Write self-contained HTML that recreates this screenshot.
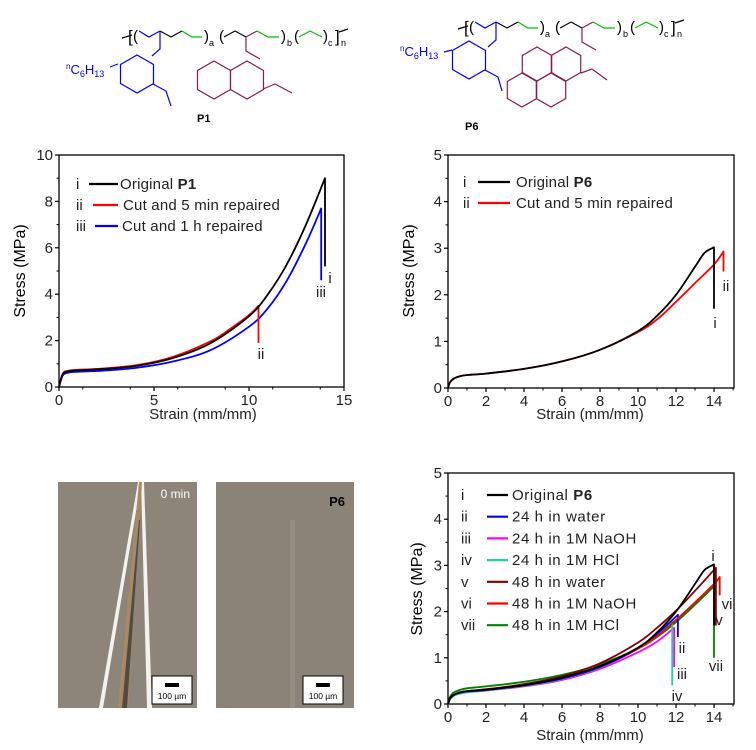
<!DOCTYPE html>
<html><head><meta charset="utf-8"><style>
html,body{margin:0;padding:0;background:#fff;}
svg{display:block;font-family:"Liberation Sans",Arial,sans-serif;}
</style></head><body>
<svg id="fig" width="756" height="750" viewBox="0 0 756 750" xmlns="http://www.w3.org/2000/svg">
<g id="structs"></g>
<g id="photos">
  <rect x="58" y="482" width="139" height="226" fill="#8d8579"/>
  <polygon points="99,708 103,708 141,482 138,482" fill="#f4f2ee"/>
  <polygon points="141,482 144,482 152,708 147,708" fill="#f4f2ee"/>
  <polygon points="118,708 128,708 142,482 139,482" fill="#a78a62"/>
  <polygon points="122,708 127,708 140,520 139,520" fill="#4f4a45"/>
  <text x="190" y="498" text-anchor="end" font-size="12" fill="#fff">0 min</text>
  <rect x="152" y="676" width="40" height="28" fill="#fff" stroke="#000" stroke-width="1"/>
  <rect x="165" y="683" width="14" height="4" fill="#000"/>
  <text x="172" y="699" text-anchor="middle" font-size="8.5" fill="#000">100 µm</text>
  <rect x="216" y="482" width="138" height="226" fill="#8b8378"/>
  <rect x="290" y="520" width="5" height="188" fill="#958e84"/>
  <text x="345" y="506" text-anchor="end" font-size="13" font-weight="bold" fill="#000">P6</text>
  <rect x="303" y="676" width="40" height="28" fill="#fff" stroke="#000" stroke-width="1"/>
  <rect x="316" y="683" width="14" height="4" fill="#000"/>
  <text x="323" y="699" text-anchor="middle" font-size="8.5" fill="#000">100 µm</text>
</g>
<g id="c1"></g>
<g id="c2"></g>
<g id="c3"></g>
</svg>
<script>
// ===== Chart 1 data (P1) =====
const c1Strain_i   = [0,0.2,0.5,1,2,4,6,8,10,11,12,13,14,14];
const c1Stress_i   = [0,0.55,0.68,0.72,0.76,0.9,1.25,1.9,3.05,4.0,5.3,7.0,9.0,5.2];
const c1Strain_ii  = [0,0.2,0.5,1,2,4,6,8,9,10,10.5,10.5];
const c1Stress_ii  = [0,0.58,0.7,0.74,0.78,0.93,1.3,1.98,2.5,3.1,3.5,1.9];
const c1Strain_iii = [0,0.2,0.5,1,2,4,6,8,10,11,12,13,13.8,13.8];
const c1Stress_iii = [0,0.5,0.62,0.66,0.69,0.82,1.1,1.6,2.6,3.4,4.6,6.2,7.7,4.6];
const c1XTicks = [0,5,10,15];
const c1YTicks = [0,2,4,6,8,10];
// ===== Chart 2 data (P6 repair) =====
const c2Strain_i  = [0,0.1,0.3,0.6,1,2,4,6,8,10,11,12,13,13.5,14,14];
const c2Stress_i  = [0,0.12,0.2,0.25,0.28,0.31,0.41,0.57,0.82,1.22,1.55,2.0,2.6,2.9,3.02,1.7];
const c2Strain_ii = [0,0.1,0.3,0.6,1,2,4,6,8,10,11,12,13,14,14.5,14.5];
const c2Stress_ii = [0,0.12,0.2,0.25,0.28,0.31,0.41,0.57,0.82,1.2,1.47,1.85,2.25,2.65,2.93,2.5];
const c2XTicks = [0,2,4,6,8,10,12,14];
const c2YTicks = [0,1,2,3,4,5];
// ===== Chart 3 data (P6 solvents) =====
const c3Strain_i   = [0,0.1,0.3,0.6,1,2,4,6,8,10,11,12,13,13.5,14,14];
const c3Stress_i   = [0,0.12,0.2,0.25,0.28,0.31,0.41,0.57,0.82,1.22,1.55,2.0,2.6,2.9,3.02,1.7];
const c3Strain_ii  = [0,0.1,0.3,0.6,1,2,4,6,8,10,11,12.1,12.1];
const c3Stress_ii  = [0,0.11,0.19,0.24,0.27,0.3,0.4,0.55,0.8,1.2,1.52,1.93,1.45];
const c3Strain_iii = [0,0.1,0.3,0.6,1,2,4,6,8,10,11,11.9,11.9];
const c3Stress_iii = [0,0.1,0.18,0.23,0.26,0.29,0.38,0.52,0.76,1.12,1.35,1.65,0.8];
const c3Strain_iv  = [0,0.1,0.3,0.6,1,2,4,6,8,10,11,11.8,11.8];
const c3Stress_iv  = [0,0.1,0.18,0.22,0.25,0.29,0.39,0.54,0.79,1.2,1.5,1.8,0.4];
const c3Strain_v   = [0,0.1,0.3,0.6,1,2,4,6,8,10,11,12,13,14.1,14.1];
const c3Stress_v   = [0,0.12,0.2,0.25,0.28,0.32,0.43,0.6,0.88,1.33,1.65,2.02,2.45,2.95,1.7];
const c3Strain_vi  = [0,0.1,0.3,0.6,1,2,4,6,8,10,11,12,13,14,14.3,14.3];
const c3Stress_vi  = [0,0.12,0.2,0.25,0.28,0.31,0.41,0.57,0.82,1.2,1.47,1.82,2.2,2.6,2.75,2.35];
const c3Strain_vii = [0,0.1,0.3,0.6,1,2,4,6,8,10,11,12,13,14,14];
const c3Stress_vii = [0,0.15,0.25,0.3,0.34,0.38,0.48,0.63,0.86,1.2,1.45,1.77,2.15,2.55,1.0];
const c3XTicks = [0,2,4,6,8,10,12,14];
const c3YTicks = [0,1,2,3,4,5];

const NS="http://www.w3.org/2000/svg";
function mk(parent,tag,attrs,text){const e=document.createElementNS(NS,tag);for(const k in attrs)e.setAttribute(k,attrs[k]);if(text!==undefined)e.textContent=text;parent.appendChild(e);return e;}

function axes(g,L,R,T,B,xmax,ymax,xt,yt,minorX,minorY){
  const sx=v=>L+(v/xmax)*(R-L), sy=v=>B-(v/ymax)*(B-T);
  const box=mk(g,'rect',{x:L,y:T,width:R-L,height:B-T,fill:'none',stroke:'#000','stroke-width':1.3});
  
  
  xt.forEach(v=>{
    mk(g,'line',{x1:sx(v),x2:sx(v),y1:B,y2:B+4,stroke:'#000','stroke-width':1.2});
    const t=mk(g,'text',{x:sx(v),y:B+18,'text-anchor':'middle','font-size':15,fill:'#222'},String(v));
    
    
  });
  for(let v=minorX;v<xmax;v+=minorX*2){mk(g,'line',{x1:sx(v),x2:sx(v),y1:B,y2:B+2.5,stroke:'#000','stroke-width':1});}
  yt.forEach(v=>{
    mk(g,'line',{x1:L-4,x2:L,y1:sy(v),y2:sy(v),stroke:'#000','stroke-width':1.2});
    const t=mk(g,'text',{x:L-6,y:sy(v)+5,'text-anchor':'end','font-size':15,fill:'#222'},String(v));
    
    
  });
  for(let v=minorY;v<ymax;v+=minorY*2){mk(g,'line',{x1:L-2.5,x2:L,y1:sy(v),y2:sy(v),stroke:'#000','stroke-width':1});}
  return {sx,sy};
}
function series(g,s,xs,ys,color,name){
  const P=xs.map((x,i)=>[s.sx(x),s.sy(ys[i])]);
  const n=P.length-1; // last point is the vertical drop
  let d='M'+P[0][0].toFixed(1)+','+P[0][1].toFixed(1);
  for(let i=0;i<n-1;i++){
    const p0=P[Math.max(0,i-1)],p1=P[i],p2=P[i+1],p3=P[Math.min(n-1,i+2)];
    const c1=[p1[0]+(p2[0]-p0[0])/6,p1[1]+(p2[1]-p0[1])/6];
    const c2=[p2[0]-(p3[0]-p1[0])/6,p2[1]-(p3[1]-p1[1])/6];
    d+=` C${c1[0].toFixed(1)},${c1[1].toFixed(1)} ${c2[0].toFixed(1)},${c2[1].toFixed(1)} ${p2[0].toFixed(1)},${p2[1].toFixed(1)}`;
  }
  d+=' L'+P[n][0].toFixed(1)+','+P[n][1].toFixed(1);
  const p=mk(g,'path',{d:d,fill:'none',stroke:color,'stroke-width':1.8,'stroke-linejoin':'round'});
  
  
}
function label(g,x,y,txt,name,size,anchor,color,rot){
  const a={x:x,y:y,'font-size':size||15,fill:color||'#222','text-anchor':anchor||'start'};
  if(rot)a.transform='rotate(-90 '+x+' '+y+')';
  const t=mk(g,'text',a,txt);
  
  
  return t;
}
function legendRow(g,rx,lx1,lx2,tx,y,roman,color,txt,bold,name,ls){
  label(g,rx,y+5,roman,'legend-roman');
  mk(g,'line',{x1:lx1,x2:lx2,y1:y,y2:y,stroke:color,'stroke-width':2.2});
  const t=label(g,tx,y+5,txt,name,15);
  t.setAttribute('letter-spacing',ls||'0.2');
  if(bold){const b=document.createElementNS(NS,'tspan');b.setAttribute('font-weight','bold');b.textContent=bold;t.appendChild(b);}
}

// ---- Chart 1 ----
(function(){
  const g=document.getElementById('c1');
  const s=axes(g,59,344,155,387,15,10,c1XTicks,c1YTicks,1.25,1);
  series(g,s,c1Strain_iii,c1Stress_iii,'#0000ff','series-1h-repaired');
  series(g,s,c1Strain_ii,c1Stress_ii,'#ff0000','series-5min-repaired');
  series(g,s,c1Strain_i,c1Stress_i,'#000','series-original-p1');
  legendRow(g,76,89,118,120,184,'i','#000','Original ','P1','legend-original');
  legendRow(g,76,93,118,123,205,'ii','#ff0000','Cut and 5 min repaired','','legend-5min');
  legendRow(g,76,95,118,122,226,'iii','#0000ff','Cut and 1 h repaired','','legend-1h');
  label(g,330,283,'i','series-label-i',15,'middle');
  label(g,321,297,'iii','series-label-iii',15,'middle');
  label(g,261,359,'ii','series-label-ii',15,'middle');
  label(g,203,419,'Strain (mm/mm)','x-axis-title',15,'middle');
  label(g,25,271,'Stress (MPa)','y-axis-title',16,'middle','#000',true);
})();
// ---- Chart 2 ----
(function(){
  const g=document.getElementById('c2');
  const s=axes(g,448,734,155,388,15.05,5,c2XTicks,c2YTicks,1,0.5);
  series(g,s,c2Strain_ii,c2Stress_ii,'#ff0000','series-5min-repaired');
  series(g,s,c2Strain_i,c2Stress_i,'#000','series-original-p6');
  legendRow(g,463,478,510,516,182,'i','#000','Original ','P6','legend-original');
  legendRow(g,463,478,510,516,203,'ii','#ff0000','Cut and 5 min repaired','','legend-5min');
  label(g,715,328,'i','series-label-i',15,'middle');
  label(g,726,291,'ii','series-label-ii',15,'middle');
  label(g,590,419,'Strain (mm/mm)','x-axis-title',15,'middle');
  label(g,414,271,'Stress (MPa)','y-axis-title',16,'middle','#000',true);
})();
// ---- Chart 3 ----
(function(){
  const g=document.getElementById('c3');
  const s=axes(g,448,734,473,704,15.05,5,c3XTicks,c3YTicks,1,0.5);
  series(g,s,c3Strain_vii,c3Stress_vii,'#008000','series-48h-hcl');
  series(g,s,c3Strain_iii,c3Stress_iii,'#ff00ff','series-24h-naoh');
  series(g,s,c3Strain_iv,c3Stress_iv,'#1fd3a0','series-24h-hcl');
  series(g,s,c3Strain_ii,c3Stress_ii,'#0000ff','series-24h-water');
  series(g,s,c3Strain_vi,c3Stress_vi,'#ff0000','series-48h-naoh');
  series(g,s,c3Strain_v,c3Stress_v,'#800000','series-48h-water');
  series(g,s,c3Strain_i,c3Stress_i,'#000','series-original');
  const rows=[['i','#000','Original ','P6'],['ii','#0000ff','24 h in water',''],['iii','#ff00ff','24 h in 1M NaOH',''],['iv','#1fd3a0','24 h in 1M HCl',''],['v','#800000','48 h in water',''],['vi','#ff0000','48 h in 1M NaOH',''],['vii','#008000','48 h in 1M HCl','']];
  rows.forEach((r,i)=>legendRow(g,461,487,508,512,495+i*21.7,r[0],r[1],r[2],r[3],'legend-entry','0.6'));
  label(g,713,561,'i','series-label-i',15,'middle');
  label(g,682,653,'ii','series-label-ii',15,'middle');
  label(g,682,679,'iii','series-label-iii',15,'middle');
  label(g,677,701,'iv','series-label-iv',15,'middle');
  label(g,719,625,'v','series-label-v',15,'middle');
  label(g,727,609,'vi','series-label-vi',15,'middle');
  label(g,716,671,'vii','series-label-vii',15,'middle');
  label(g,590,740,'Strain (mm/mm)','x-axis-title',15,'middle');
  label(g,422,589,'Stress (MPa)','y-axis-title',16,'middle','#000',true);
})();

// ---- Chemical structures ----
(function(){
  const g=document.getElementById('structs');
  function hex(cx,cy,r,col){
    const pts=[];for(let k=0;k<6;k++){const a=Math.PI/180*(60*k-90);pts.push((cx+r*Math.cos(a)).toFixed(1)+','+(cy+r*Math.sin(a)).toFixed(1));}
    mk(g,'polygon',{points:pts.join(' '),fill:'none',stroke:col,'stroke-width':1.2});
  }
  function pl(pts,col){mk(g,'polyline',{points:pts,fill:'none',stroke:col,'stroke-width':1.2});}
  function txt(x,y,t,col,size,name,bold){const e=mk(g,'text',{x:x,y:y,fill:col,'font-size':size||13,'font-weight':bold?'bold':'normal'},t);return e;}
  function chain(ox,oy){
    const B='#000',bl='#0000ff',gr='#00c000',pu='#8b1a50';
    pl(`${ox},${oy+34} ${ox+10},${oy+31}`,B);
    txt(ox+6,oy+38,'[','#000',17,'bracket');txt(ox+11,oy+37,'(','#000',15,'paren');
    pl(`${ox+17},${oy+27} ${ox+27},${oy+33} ${ox+38},${oy+27}`,bl);
    pl(`${ox+38},${oy+27} ${ox+49},${oy+33} ${ox+60},${oy+27}`,B);
    pl(`${ox+60},${oy+27} ${ox+70},${oy+33} ${ox+80},${oy+33}`,gr);
    txt(ox+82,oy+37,')','#000',15,'paren');txt(ox+87,oy+42,'a','#000',9,'subscript-a');
    txt(ox+97,oy+37,'(','#000',15,'paren');
    pl(`${ox+102},${oy+33} ${ox+113},${oy+27} ${ox+124},${oy+33}`,B);
    pl(`${ox+124},${oy+33} ${ox+135},${oy+27}`,pu);
    pl(`${ox+135},${oy+27} ${ox+146},${oy+33} ${ox+157},${oy+33}`,gr);
    txt(ox+159,oy+37,')','#000',15,'paren');txt(ox+165,oy+42,'b','#000',9,'subscript-b');
    txt(ox+172,oy+37,'(','#000',15,'paren');
    pl(`${ox+177},${oy+33} ${ox+188},${oy+27} ${ox+200},${oy+33}`,gr);
    txt(ox+201,oy+37,')','#000',15,'paren');txt(ox+206,oy+42,'c','#000',9,'subscript-c');
    txt(ox+213,oy+38,']','#000',17,'bracket');txt(ox+219,oy+42,'n','#000',9,'subscript-n');
    pl(`${ox+217},${oy+28} ${ox+226},${oy+25}`,B);
    pl(`${ox+38},${oy+27} ${ox+38},${oy+45} ${ox+30},${oy+52}`,bl);
    pl(`${ox+124},${oy+33} ${ox+124},${oy+47} ${ox+138},${oy+55}`,pu);
  }
  // P1
  chain(122,4);
  hex(137,74,19,'#0000ff');
  pl('153,84 166,91 171,106','#0000ff');
  pl('118,64 110,67','#0000ff');
  const h1=txt(66,74,'','#0000ff',13,'hexyl-group');
  h1.innerHTML='<tspan font-size="8" dy="-5">n</tspan><tspan dy="5">C</tspan><tspan font-size="9" dy="3">6</tspan><tspan dy="-3">H</tspan><tspan font-size="9" dy="3">13</tspan>';
  hex(214,80,19,'#8b1a50');hex(247,80,19,'#8b1a50');
  pl('263,89 275,84 292,93','#8b1a50');
  txt(197,122,'P1','#000',11,'label-p1',true);
  // P6
  chain(458,-5);
  hex(469,60,19,'#0000ff');
  pl('485,70 498,77 502,91','#0000ff');
  pl('452,50 444,52','#0000ff');
  const h2=txt(400,56,'','#0000ff',13,'hexyl-group-p6');
  h2.innerHTML='<tspan font-size="8" dy="-5">n</tspan><tspan dy="5">C</tspan><tspan font-size="9" dy="3">6</tspan><tspan dy="-3">H</tspan><tspan font-size="9" dy="3">13</tspan>';
  hex(566,64,17,'#8b1a50');hex(537,64,17,'#8b1a50');hex(551,90,17,'#8b1a50');hex(522,90,17,'#8b1a50');
  pl('581,73 592,69 607,80','#8b1a50');
  txt(465,130,'P6','#000',11,'label-p6',true);
})();
</script>
</body></html>
